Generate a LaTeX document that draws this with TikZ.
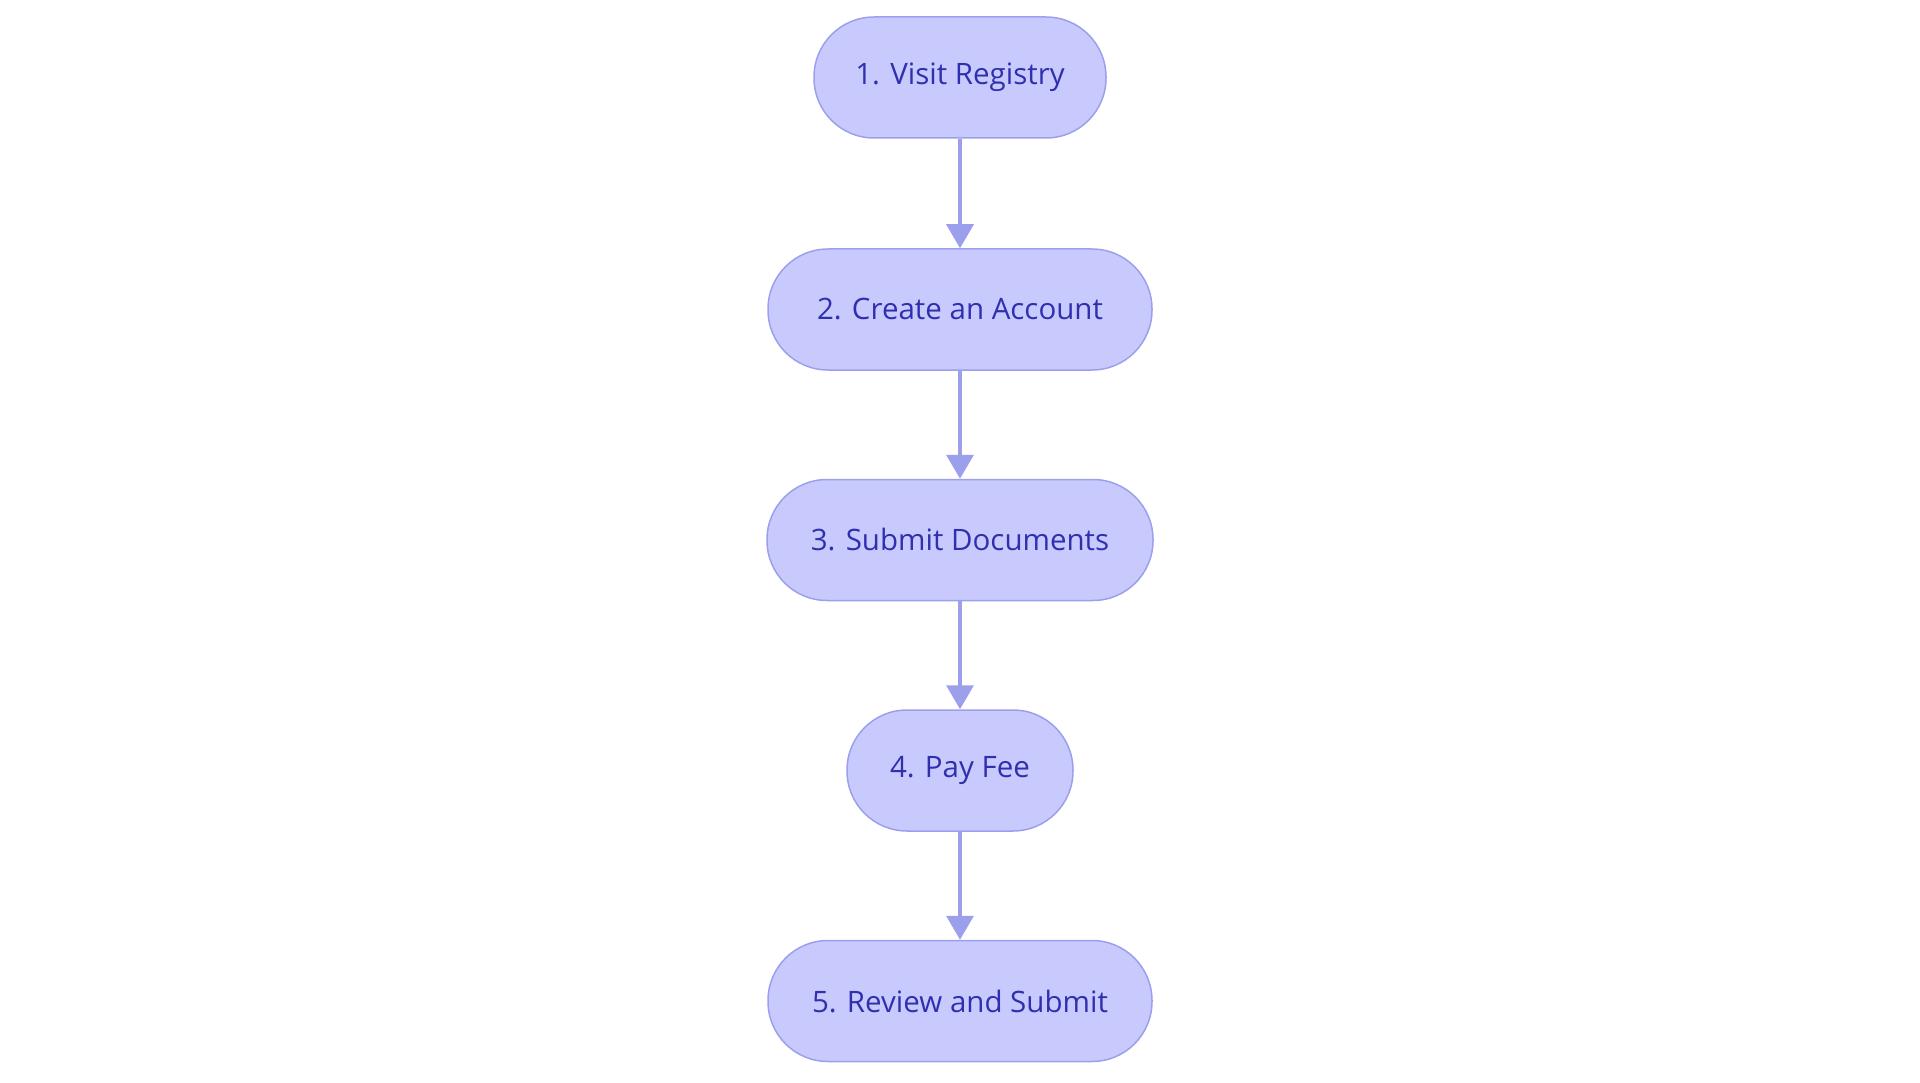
\documentclass[tikz,border=0pt]{standalone}
\usepackage{fontspec}
\setmainfont{Open Sans}
\usetikzlibrary{arrows.meta}
\definecolor{nodefill}{HTML}{C8CAFE}
\definecolor{nodeline}{HTML}{9C9FEB}
\definecolor{nodetext}{HTML}{3030AE}
\tikzset{
  stadium/.style={draw=nodeline, fill=nodefill, line width=1.5pt,
    rounded corners=60pt, minimum height=121pt, inner sep=0pt,
    text=nodetext, font=\fontsize{29.5}{35}\selectfont},
  flow/.style={draw=nodeline, line width=3.5pt,
    -{Triangle[width=27pt,length=24pt]}}
}
\begin{document}
\begin{tikzpicture}[x=1pt,y=1pt]
\useasboundingbox (0,0) rectangle (1920,-1083);
\node[stadium, minimum width=292pt] (n1) at (960,-77.5) {1. Visit Registry};
\node[stadium, minimum width=384pt] (n2) at (960,-309.5) {2. Create an Account};
\node[stadium, minimum width=386pt] (n3) at (960,-540) {3. Submit Documents};
\node[stadium, minimum width=226pt] (n4) at (960,-770.5) {4. Pay Fee};
\node[stadium, minimum width=384pt] (n5) at (960,-1001) {5. Review and Submit};
\draw[flow] (n1) -- (n2);
\draw[flow] (n2) -- (n3);
\draw[flow] (n3) -- (n4);
\draw[flow] (n4) -- (n5);
\end{tikzpicture}
\end{document}
